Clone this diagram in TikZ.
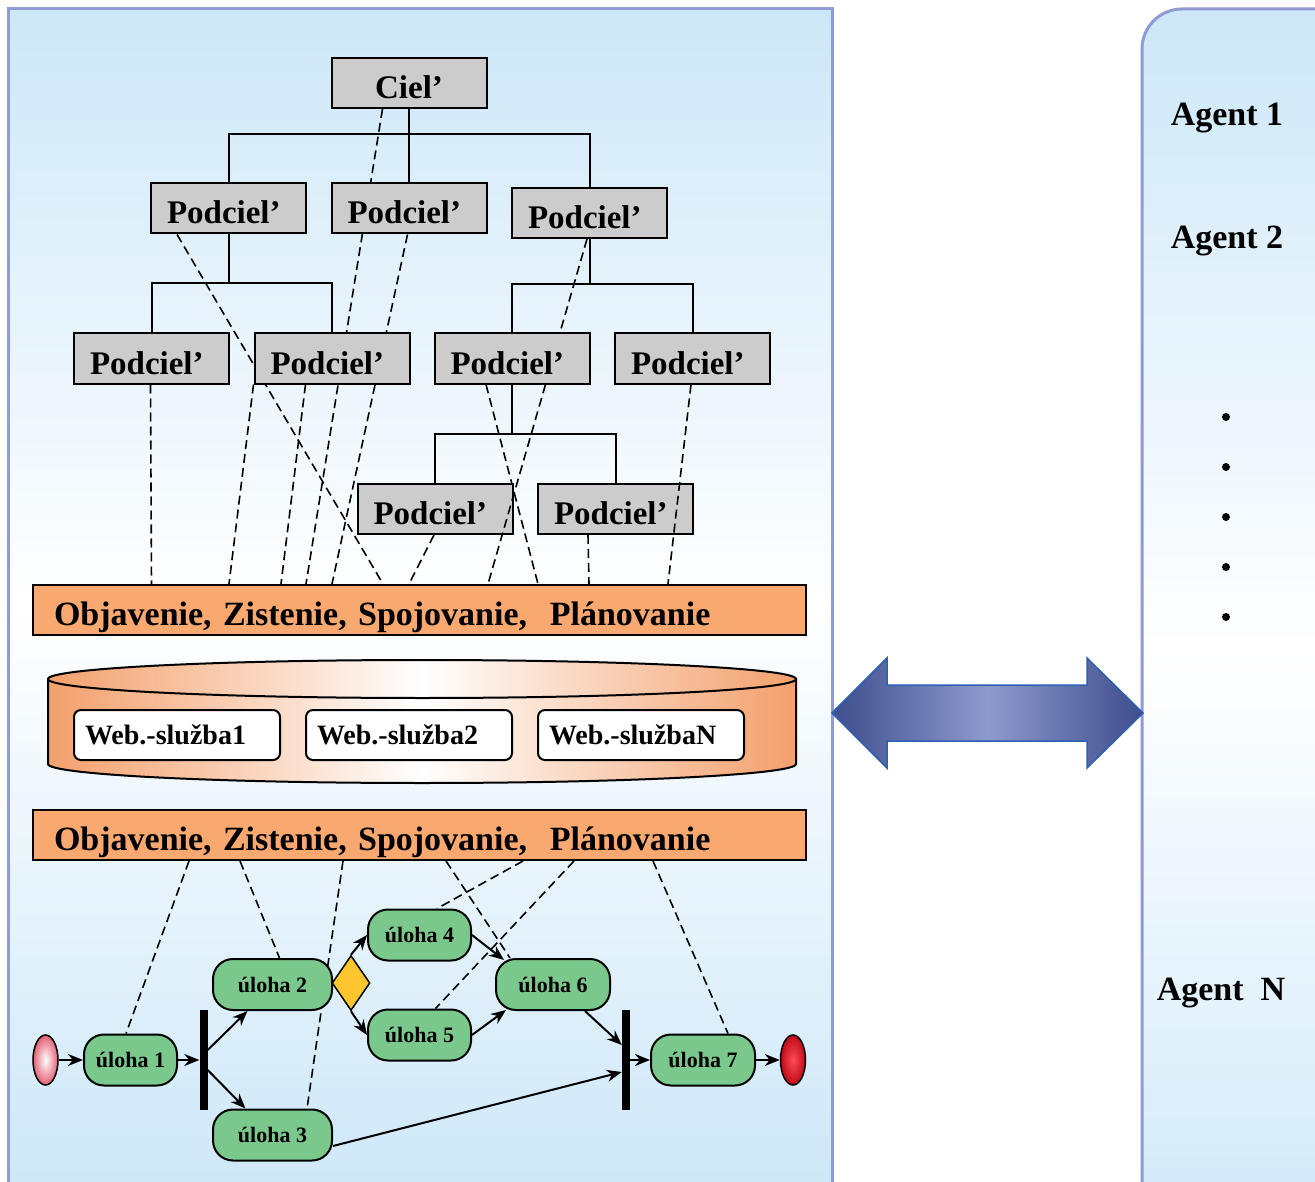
\documentclass[tikz,border=0pt]{standalone}
\usepackage{fontspec}
\setmainfont{Liberation Serif}
\usetikzlibrary{positioning,calc,shapes.geometric,arrows.meta}

\definecolor{frame}{RGB}{143,155,210}
\definecolor{sky}{RGB}{205,231,248}
\definecolor{goalgray}{RGB}{204,204,204}
\definecolor{planorange}{RGB}{249,168,112}
\definecolor{peach}{RGB}{243,160,108}
\definecolor{taskgreen}{RGB}{123,200,141}
\definecolor{decision}{RGB}{253,198,45}
\definecolor{arrowdark}{RGB}{62,78,140}
\definecolor{arrowlight}{RGB}{142,153,206}
\definecolor{arrowedge}{RGB}{44,96,178}
\definecolor{startpink}{RGB}{226,96,116}
\definecolor{endred}{RGB}{190,10,25}
\definecolor{endlight}{RGB}{255,75,85}

\pgfdeclarelayer{panels}
\pgfdeclarelayer{hidden}
\pgfsetlayers{panels,hidden,main}

\begin{document}
\begin{tikzpicture}[x=1pt,y=-1pt,
    panel/.style={line width=3pt,draw=frame,top color=sky,bottom color=sky,middle color=white},
    goal/.style={draw,line width=2pt,fill=goalgray,minimum width=155pt,minimum height=50pt,
        text width=123pt,align=left,inner xsep=16pt,inner ysep=0pt,text height=31pt,text depth=0pt,
        font=\fontsize{33}{36}\selectfont\bfseries},
    plan/.style={draw,line width=2pt,fill=planorange,minimum width=773pt,minimum height=50pt,
        text width=731pt,align=left,inner xsep=21pt,inner ysep=0pt,text height=32pt,text depth=2pt,
        font=\fontsize{34}{38}\selectfont\bfseries},
    service/.style={draw,line width=2pt,fill=white,rounded corners=7pt,minimum width=206pt,
        minimum height=50pt,text width=184pt,align=left,inner xsep=11pt,inner ysep=0pt,
        font=\fontsize{28}{32}\selectfont\bfseries},
    task/.style={draw,line width=2pt,fill=taskgreen,rounded corners=20pt,minimum height=51pt,
        inner sep=0pt,font=\fontsize{22}{26}\selectfont\bfseries},
    sync/.style={fill=black,minimum width=8pt,minimum height=100pt,inner sep=0pt},
    terminal/.style={ellipse,draw,line width=1.5pt,minimum width=25pt,minimum height=50pt,inner sep=0pt},
    choice/.style={diamond,draw,line width=1.5pt,fill=decision,minimum width=38pt,minimum height=55pt,inner sep=0pt},
    tree/.style={line width=2pt},
    trace/.style={line width=1.6pt,dash pattern=on 9pt off 5pt},
    flow/.style={line width=2pt,-{Stealth[length=15pt,width=12pt]}},
    exchange/.style={line width=1.5pt,draw=arrowedge,left color=arrowdark,right color=arrowdark,middle color=arrowlight},
    agent/.style={font=\fontsize{34}{38}\selectfont\bfseries},
    dot/.style={circle,fill=black,minimum size=8pt,inner sep=0pt}]

    \useasboundingbox (0,0) rectangle (1315,1182);

    \begin{pgfonlayer}{panels}
    \fill[white] (0,0) rectangle (1315,1182);
    \draw[panel] (8,9) rectangle (832,1200);
    \draw[panel,rounded corners=40pt] (1142,9) rectangle (1360,1290);
    \end{pgfonlayer}

    % goal tree
    \node[goal,align=center] (goal) at (409,83) {Ciel’};
    \foreach \n/\x/\y in {1/228.5/208.5, 2/409/208.5, 3/589.5/213,
                          4/151.5/358.5, 5/332/358.5, 6/512/358.5, 7/692.5/358.5,
                          8/435/509, 9/615.5/509}
        \node[goal] (sub \n) at (\x,\y) {Podciel’};

    \draw[tree] (goal.south) -- ++(0,25) coordinate (split goal) -| (sub 1.north);
    \draw[tree] (split goal) -| (sub 3.north);
    \draw[tree] (split goal) -- (sub 2.north);
    \draw[tree] (sub 1.south) -- ++(0,49) coordinate (split 1) -| (sub 4.north);
    \draw[tree] (split 1) -| (sub 5.north);
    \draw[tree] (sub 3.south) -- ++(0,45) coordinate (split 3) -| (sub 6.north);
    \draw[tree] (split 3) -| (sub 7.north);
    \draw[tree] (sub 6.south) -- ++(0,49) coordinate (split 6) -| (sub 8.north);
    \draw[tree] (split 6) -| (sub 9.north);

    \node[plan] (plan top) at (419.5,610) {Objavenie, Zistenie, Spojovanie, \ Plánovanie};
    \node[plan] (plan bottom) at (419.5,835) {Objavenie, Zistenie, Spojovanie, \ Plánovanie};

    \begin{pgfonlayer}{hidden}
    \foreach \a/\da/\db in {goal/52/274, sub 2/77/300, sub 1/27/351, sub 5/0/197, sub 5/52/249,
                            sub 4/77.5/119.5, sub 8/77.5/377, sub 6/52.5/506, sub 9/51/557}
        \draw[trace] ($(\a.south west)+(\da,0)$) -- ($(plan top.north west)+(\db,0)$);
    \draw[trace] ($(sub 3.south west)+(76,0)$) -- ($(sub 6.north west)+(126.5,0)$);
    \end{pgfonlayer}

    \draw[trace] ($(sub 6.south west)+(112,0)$) -- ($(plan top.north west)+(456,0)$);
    \draw[trace] ($(sub 7.south west)+(77,0)$) -- ($(plan top.north west)+(636,0)$);

    % web services
    \draw[line width=2pt,left color=peach,right color=peach,middle color=white]
        (48,679) -- (48,764) arc[start angle=180,end angle=360,x radius=374pt,y radius=19pt]
        -- (796,679) -- cycle;
    \draw[line width=2pt,left color=peach,right color=peach,middle color=white]
        (422,679) ellipse[x radius=374pt,y radius=19pt];

    \foreach \n/\x/\t in {1/177/Web.-služba1, 2/409/Web.-služba2, 3/641/Web.-službaN}
        \node[service] (service \n) at (\x,735) {\t};

    % workflow
    \node[terminal,inner color=white,outer color=startpink] (start) at (45.5,1060) {};
    \node[task,minimum width=93pt] (task 1) at (130.5,1060) {úloha 1};
    \node[sync] (sync 1) at (203.5,1060) {};
    \node[task,minimum width=119pt] (task 2) at (272.5,984.5) {úloha 2};
    \node[task,minimum width=119pt] (task 3) at (272.5,1135) {úloha 3};
    \node[choice] (choice) at (351,983) {};
    \node[task,minimum width=103pt] (task 4) at (419.5,935) {úloha 4};
    \node[task,minimum width=103pt] (task 5) at (419.5,1035) {úloha 5};
    \node[task,minimum width=114pt] (task 6) at (553,984.5) {úloha 6};
    \node[sync] (sync 2) at (626,1060) {};
    \node[task,minimum width=104pt] (task 7) at (703,1060) {úloha 7};
    \node[terminal,inner color=endlight,outer color=endred] (end) at (793,1060) {};

    \begin{pgfonlayer}{hidden}
    \foreach \b/\t/\dt in {157/task 1/-4.5, 208/task 2/7, 311/task 3/34.5, 414/task 6/-43,
                           491/task 4/17.5, 542/task 5/16, 621/task 7/25}
        \draw[trace] ($(plan bottom.south west)+(\b,0)$) -- ($(\t.north)+(\dt,0)$);
    \end{pgfonlayer}

    \draw[flow] (start) -- (task 1);
    \draw[flow] (task 1) -- (sync 1);
    \draw[flow] ($(sync 1.east)+(0,-10)$) -- ($(task 2.south)+(-25,0)$);
    \draw[flow] ($(sync 1.east)+(0,10)$) -- ($(task 3.north)+(-27,0)$);
    \draw[flow] (choice.north) -- (task 4.west);
    \draw[flow] (choice.south) -- (task 5.west);
    \draw[flow] (task 4.east) -- ($(task 6.north west)+(9,2)$);
    \draw[flow] (task 5.east) -- ($(task 6.south west)+(11,-1)$);
    \draw[flow] ($(task 6.south)+(32,0)$) -- ($(sync 2.west)+(0,-15)$);
    \draw[flow] ($(task 3.east)+(0,11)$) -- ($(sync 2.west)+(0,12)$);
    \draw[flow] (sync 2) -- (task 7);
    \draw[flow] (task 7) -- (end);

    % exchange with the agents
    \draw[exchange] (832,713) -- ++(55,-55) -- ++(0,27) -- ++(200,0) -- ++(0,-27)
        -- ++(56,55) -- ++(-56,55) -- ++(0,-27) -- ++(-200,0) -- ++(0,27) -- cycle;

    \node[agent] (agent 1) at (1227,118) {Agent 1};
    \node[agent] (agent 2) at (1227,241) {Agent 2};
    \foreach \y [count=\i] in {417,467,517,567,617}
        \node[dot] (dot \i) at (1226,\y) {};
    \node[agent] (agent n) at (1221,993) {Agent \ N};
\end{tikzpicture}
\end{document}
